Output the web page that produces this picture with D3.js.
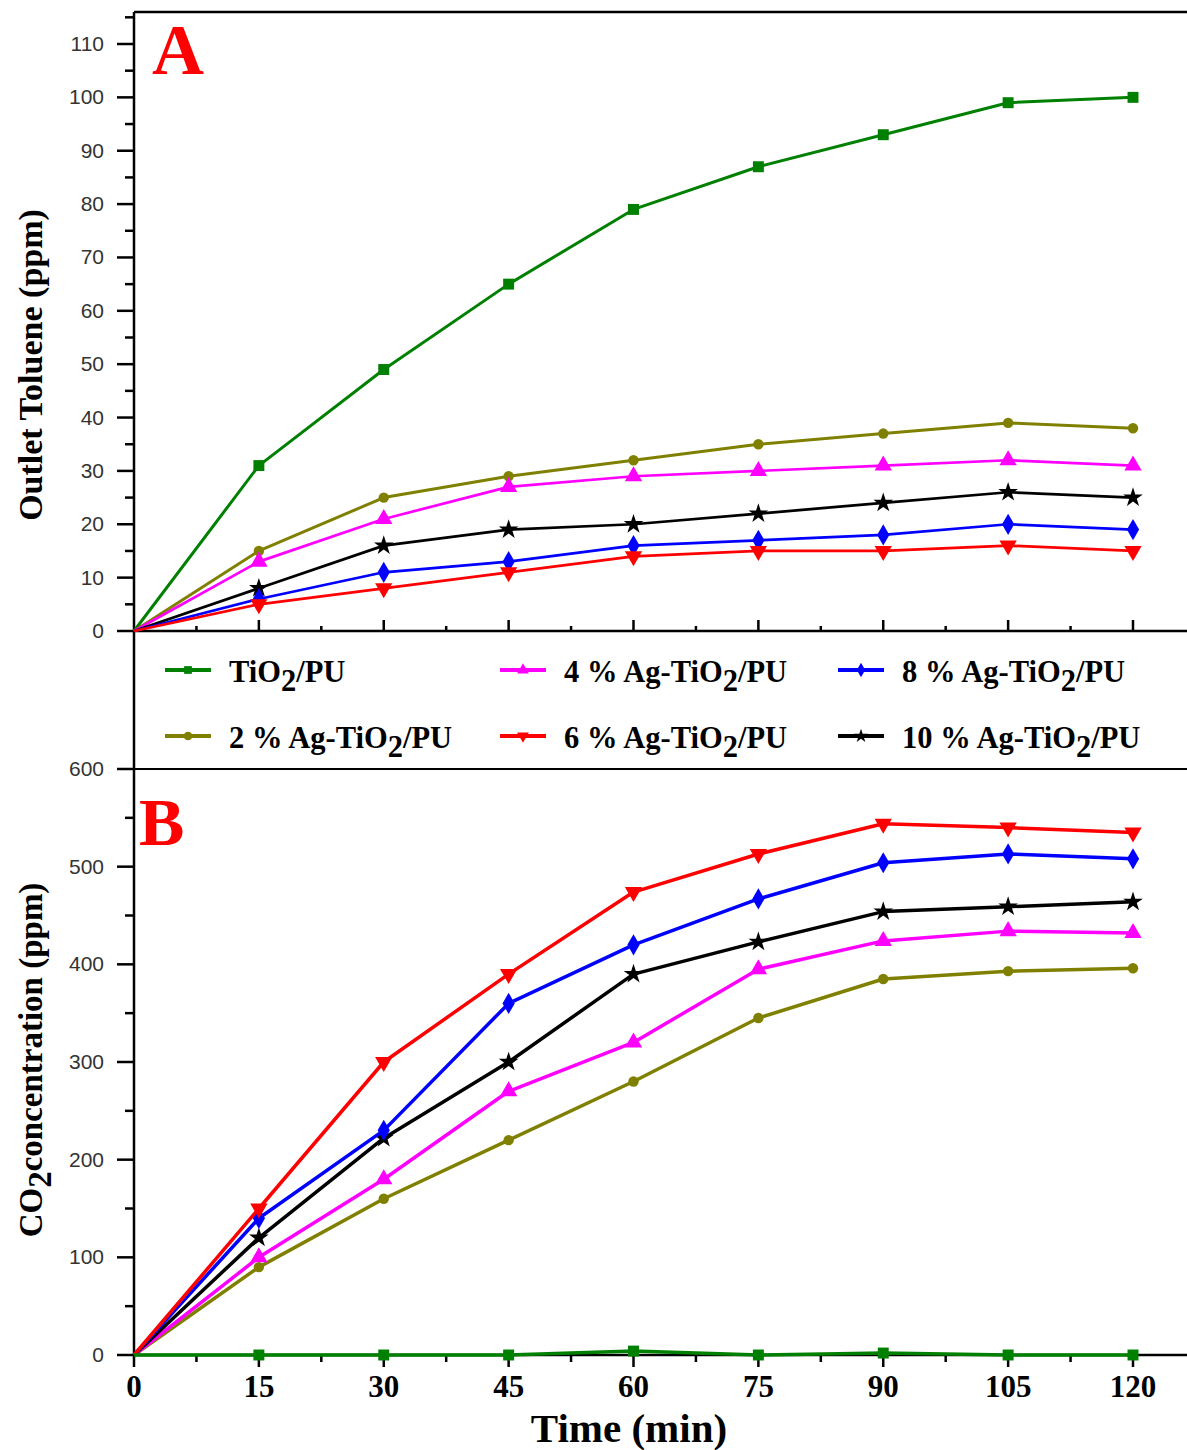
<!DOCTYPE html>
<html>
<head>
<meta charset="utf-8">
<script src="https://cdn.jsdelivr.net/npm/d3@7"></script>
<style>
  body { margin: 0; background: #fff; }
  svg { display: block; }
  .tick-label { font-family: 'Liberation Sans', Arial, sans-serif; font-size: 21px; fill: #333; }
  .serif { font-family: 'Liberation Serif', 'Times New Roman', serif; font-weight: bold; }
</style>
</head>
<body>
<div id="chart"></div>
<script>
(() => {
  const WIDTH = 1187
  const HEIGHT = 1450

  // data
  const times = [0, 15, 30, 45, 60, 75, 90, 105, 120]
  const seriesNames = ['TiO2/PU', '2 % Ag-TiO2/PU', '4 % Ag-TiO2/PU', '6 % Ag-TiO2/PU', '8 % Ag-TiO2/PU', '10 % Ag-TiO2/PU']
  const seriesColors = ['#008000', '#808000', '#ff00ff', '#ff0000', '#0000ff', '#000000']
  const seriesShapes = ['square', 'circle', 'triangleUp', 'triangleDown', 'diamond', 'star']

  // Panel A: outlet toluene (ppm)
  const tolueneTiO2 = [0, 31, 49, 65, 79, 87, 93, 99, 100]
  const toluene2 = [0, 15, 25, 29, 32, 35, 37, 39, 38]
  const toluene4 = [0, 13, 21, 27, 29, 30, 31, 32, 31]
  const toluene6 = [0, 5, 8, 11, 14, 15, 15, 16, 15]
  const toluene8 = [0, 6, 11, 13, 16, 17, 18, 20, 19]
  const toluene10 = [0, 8, 16, 19, 20, 22, 24, 26, 25]

  // Panel B: CO2 concentration (ppm)
  const co2TiO2 = [0, 0, 0, 0, 4, 0, 2, 0, 0]
  const co2_2 = [0, 90, 160, 220, 280, 345, 385, 393, 396]
  const co2_4 = [0, 100, 180, 270, 320, 395, 424, 434, 432]
  const co2_6 = [0, 150, 300, 390, 474, 513, 544, 540, 535]
  const co2_8 = [0, 140, 230, 360, 420, 467, 504, 513, 508]
  const co2_10 = [0, 120, 222, 300, 390, 423, 454, 459, 464]

  const xTicks = [0, 15, 30, 45, 60, 75, 90, 105, 120]
  const xMinorTicks = [7.5, 22.5, 37.5, 52.5, 67.5, 82.5, 97.5, 112.5, 127.5]
  const yTicksA = [0, 10, 20, 30, 40, 50, 60, 70, 80, 90, 100, 110]
  const yMinorA = [5, 15, 25, 35, 45, 55, 65, 75, 85, 95, 105, 115]
  const yTicksB = [0, 100, 200, 300, 400, 500, 600]
  const yMinorB = [50, 150, 250, 350, 450, 550]

  // layout
  const LEFT = 134
  const TOP_A = 12
  const AXIS_A = 631
  const TOP_B = 769
  const AXIS_B = 1355

  const x = d3.scaleLinear().domain([0, 120]).range([LEFT, 1133])
  const yA = d3.scaleLinear().domain([0, 110]).range([AXIS_A, 44])
  const yB = d3.scaleLinear().domain([0, 600]).range([AXIS_B, TOP_B])

  const svg = d3.select('#chart').append('svg')
    .attr('width', WIDTH)
    .attr('height', HEIGHT)

  const symbolFor = (shape, size) => {
    const types = {
      square: d3.symbolSquare,
      circle: d3.symbolCircle,
      triangleUp: d3.symbolTriangle,
      triangleDown: d3.symbolTriangle,
      diamond: d3.symbolDiamond,
      star: d3.symbolStar
    }
    return d3.symbol().type(types[shape]).size(size)()
  }

  // frame lines
  const frame = svg.append('g').attr('stroke', '#000').attr('fill', 'none')
  frame.append('line').attr('x1', LEFT).attr('x2', WIDTH).attr('y1', TOP_A).attr('y2', TOP_A).attr('stroke-width', 2.5)
  frame.append('line').attr('x1', LEFT).attr('x2', LEFT).attr('y1', TOP_A).attr('y2', AXIS_B).attr('stroke-width', 2.5)
  frame.append('line').attr('x1', LEFT).attr('x2', WIDTH).attr('y1', AXIS_A).attr('y2', AXIS_A).attr('stroke-width', 2.5)
  frame.append('line').attr('x1', LEFT - 17).attr('x2', WIDTH).attr('y1', TOP_B).attr('y2', TOP_B).attr('stroke-width', 2)
  frame.append('line').attr('x1', LEFT).attr('x2', WIDTH).attr('y1', AXIS_B).attr('y2', AXIS_B).attr('stroke-width', 2.5)

  // y axes (ticks pointing out)
  const leftAxis = (scale, major, minor) => {
    const g = svg.append('g')
    g.selectAll('.maj').data(major).join('line')
      .attr('x1', LEFT - 17).attr('x2', LEFT)
      .attr('y1', d => scale(d)).attr('y2', d => scale(d))
      .attr('stroke', '#000').attr('stroke-width', 2.5)
    g.selectAll('.min').data(minor).join('line')
      .attr('x1', LEFT - 9).attr('x2', LEFT)
      .attr('y1', d => scale(d)).attr('y2', d => scale(d))
      .attr('stroke', '#000').attr('stroke-width', 2.5)
    g.selectAll('text').data(major).join('text')
      .attr('class', 'tick-label')
      .attr('x', LEFT - 30)
      .attr('y', d => scale(d) + 7)
      .attr('text-anchor', 'end')
      .text(d => d)
  }
  leftAxis(yA, yTicksA, yMinorA)
  leftAxis(yB, yTicksB, yMinorB)

  // panel A bottom ticks point up
  const axA = svg.append('g').attr('stroke', '#000').attr('stroke-width', 2.5)
  axA.selectAll('.maj').data(xTicks.slice(1)).join('line')
    .attr('x1', d => x(d)).attr('x2', d => x(d))
    .attr('y1', AXIS_A).attr('y2', AXIS_A - 11)
  axA.selectAll('.min').data(xMinorTicks).join('line')
    .attr('x1', d => x(d)).attr('x2', d => x(d))
    .attr('y1', AXIS_A).attr('y2', AXIS_A - 5)

  // panel B bottom ticks point down
  const axB = svg.append('g').attr('stroke', '#000').attr('stroke-width', 2.5)
  axB.selectAll('.maj').data(xTicks).join('line')
    .attr('x1', d => x(d)).attr('x2', d => x(d))
    .attr('y1', AXIS_B).attr('y2', AXIS_B + 12)
  axB.selectAll('.min').data(xMinorTicks).join('line')
    .attr('x1', d => x(d)).attr('x2', d => x(d))
    .attr('y1', AXIS_B).attr('y2', AXIS_B + 7)
  svg.append('g').selectAll('text').data(xTicks).join('text')
    .attr('class', 'serif')
    .attr('x', d => x(d))
    .attr('y', 1397)
    .attr('text-anchor', 'middle')
    .attr('font-size', 31)
    .text(d => d)

  // axis titles
  svg.append('text')
    .attr('class', 'serif')
    .attr('x', 629).attr('y', 1442)
    .attr('text-anchor', 'middle')
    .attr('font-size', 41)
    .text('Time (min)')

  svg.append('text')
    .attr('class', 'serif')
    .attr('transform', 'translate(42, 365) rotate(-90)')
    .attr('text-anchor', 'middle')
    .attr('font-size', 34)
    .text('Outlet Toluene (ppm)')

  const co2Title = svg.append('text')
    .attr('class', 'serif')
    .attr('transform', 'translate(42, 1060) rotate(-90)')
    .attr('text-anchor', 'middle')
    .attr('font-size', 33)
  co2Title.append('tspan').text('CO')
  co2Title.append('tspan').attr('dy', 9).text('2')
  co2Title.append('tspan').attr('dy', -9).text('concentration (ppm)')

  // panel letters
  svg.append('text').attr('class', 'serif')
    .attr('x', 152).attr('y', 74).attr('font-size', 72).attr('fill', '#ff0000').text('A')
  svg.append('text').attr('class', 'serif')
    .attr('x', 139).attr('y', 845).attr('font-size', 68).attr('fill', '#ff0000').text('B')

  // series
  const panelA = [tolueneTiO2, toluene2, toluene4, toluene6, toluene8, toluene10]
  const panelB = [co2TiO2, co2_2, co2_4, co2_6, co2_8, co2_10]
  const markerSize = [120, 85, 130, 130, 130, 120]

  const drawSeries = (values, yScale, i, width) => {
    const pts = times.map((t, k) => [t, values[k]])
    const line = d3.line().x(d => x(d[0])).y(d => yScale(d[1]))
    const g = svg.append('g')
    g.append('path')
      .datum(pts)
      .attr('d', line)
      .attr('fill', 'none')
      .attr('stroke', seriesColors[i])
      .attr('stroke-width', width)
      .attr('stroke-linejoin', 'round')
    g.selectAll('path.m').data(pts.slice(1)).join('path')
      .attr('class', 'm')
      .attr('d', symbolFor(seriesShapes[i], markerSize[i]))
      .attr('transform', d => `translate(${x(d[0])},${yScale(d[1])})${seriesShapes[i] === 'triangleDown' ? ' rotate(180)' : ''}`)
      .attr('fill', seriesColors[i])
  }

  const orderA = [0, 1, 2, 5, 4, 3]
  orderA.forEach(i => drawSeries(panelA[i], yA, i, i === 0 || i === 1 ? 3 : 2.7))
  const orderB = [1, 2, 5, 4, 3, 0]
  orderB.forEach(i => drawSeries(panelB[i], yB, i, 3.5))

  // legend: three columns, two rows, column-major order
  const legendCols = [165, 500, 838]
  const legendRows = [670, 736]
  seriesNames.forEach((name, i) => {
    const cx = legendCols[Math.floor(i / 2)]
    const cy = legendRows[i % 2]
    const g = svg.append('g')
    g.append('line')
      .attr('x1', cx).attr('x2', cx + 46)
      .attr('y1', cy).attr('y2', cy)
      .attr('stroke', seriesColors[i]).attr('stroke-width', 4)
    g.append('path')
      .attr('d', symbolFor(seriesShapes[i], 60))
      .attr('transform', `translate(${cx + 23},${cy})${seriesShapes[i] === 'triangleDown' ? ' rotate(180)' : ''}`)
      .attr('fill', seriesColors[i])
    const parts = name.split('TiO2')
    const t = g.append('text')
      .attr('class', 'serif')
      .attr('x', cx + 64).attr('y', cy + 12)
      .attr('font-size', 30.5)
    t.append('tspan').text(parts[0] + 'TiO')
    t.append('tspan').attr('dy', 9).text('2')
    t.append('tspan').attr('dy', -9).text(parts[1])
  })
})()
</script>
</body>
</html>
